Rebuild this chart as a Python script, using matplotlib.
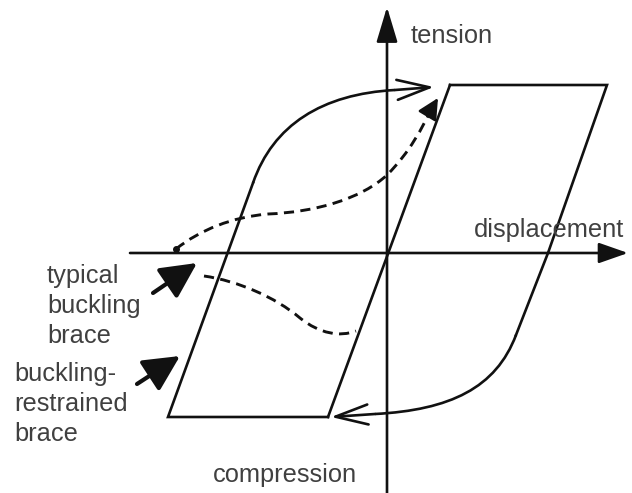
import matplotlib
matplotlib.use("Agg")
import matplotlib.pyplot as plt
from matplotlib.path import Path
from matplotlib.patches import PathPatch
import numpy as np

plt.rcParams['font.family'] = ['Liberation Sans', 'DejaVu Sans']

# ---- schematic geometry (figure pixel coordinates, y downward) ----
# axes
x_axis = [(130, 253), (628, 253)]
y_axis = [(387, 493), (387, 7)]

# buckling-restrained brace hysteresis (solid)
brb_loop_x = [433, 450, 607, 548, 516]
brb_loop_y = [88, 85, 85, 253, 335]
brb_lower_curve_x = [516, 496, 450, 375]
brb_lower_curve_y = [335, 388, 410, 414]
brb_lower_arrow = [(375, 414), (331, 417)]
brb_bottom_x = [328, 168, 253]
brb_bottom_y = [417, 417, 183]
brb_inner_x = [328, 450]
brb_inner_y = [417, 85]
brb_upper_curve_x = [253, 273, 322, 395]
brb_upper_curve_y = [183, 125, 94, 90]
brb_upper_arrow = [(395, 90), (434, 87)]

# typical buckling brace (dashed)
buck_upper_x = [176, 200, 232, 268, 318, 362, 387, 410, 422, 432]
buck_upper_y = [249, 230, 217, 214, 212, 198, 175, 152, 128, 108]
buck_upper_tip = (438, 98)
buck_lower_x = [204, 238, 275, 300, 320, 340, 356]
buck_lower_y = [276, 281, 297, 318, 334, 337, 331]

# labels
label_tension = "tension"
label_disp = "displacement"
label_comp = "compression"
label_typ = "typical\nbuckling\nbrace"
label_brb = "buckling-\nrestrained\nbrace"

# pointer arrows
ptr_typ = [(153, 293), (197, 263)]
ptr_brb = [(137, 384), (180, 356)]

LC = '#111111'
TC = '#404040'
LW = 1.9

fig = plt.figure(figsize=(6.32, 4.93), dpi=100)
ax = fig.add_axes([0, 0, 1, 1])
ax.set_xlim(0, 632)
ax.set_ylim(493, 0)
ax.axis('off')


def bez(xs, ys, **kw):
    verts = list(zip(xs, ys))
    n = len(verts)
    codes = [Path.MOVETO] + [Path.CURVE4] * (n - 1)
    ax.add_patch(PathPatch(Path(verts, codes), fill=False, **kw))


# axes with filled arrowheads
ax.annotate('', xy=x_axis[1], xytext=x_axis[0],
            arrowprops=dict(arrowstyle='-|>,head_length=1.0,head_width=0.35',
                            mutation_scale=18, lw=LW, color=LC,
                            shrinkA=0, shrinkB=0))
ax.annotate('', xy=y_axis[1], xytext=y_axis[0],
            arrowprops=dict(arrowstyle='-|>,head_length=1.2,head_width=0.36',
                            mutation_scale=18, lw=LW, color=LC,
                            shrinkA=0, shrinkB=0))

# BRB solid loop
ax.plot(brb_loop_x[1:], brb_loop_y[1:], color=LC, lw=LW, solid_joinstyle='miter')
bez(brb_lower_curve_x, brb_lower_curve_y, color=LC, lw=LW)
ax.annotate('', xy=brb_lower_arrow[1], xytext=brb_lower_arrow[0],
            arrowprops=dict(arrowstyle='->,head_length=1.3,head_width=0.4',
                            mutation_scale=18, lw=LW, color=LC,
                            shrinkA=0, shrinkB=0))
ax.plot(brb_bottom_x, brb_bottom_y, color=LC, lw=LW, solid_joinstyle='miter')
ax.plot(brb_inner_x, brb_inner_y, color=LC, lw=LW)
bez(brb_upper_curve_x, brb_upper_curve_y, color=LC, lw=LW)
ax.annotate('', xy=brb_upper_arrow[1], xytext=brb_upper_arrow[0],
            arrowprops=dict(arrowstyle='->,head_length=1.3,head_width=0.4',
                            mutation_scale=18, lw=LW, color=LC,
                            shrinkA=0, shrinkB=0))

# typical buckling brace dashed
bez(buck_upper_x, buck_upper_y, color=LC, lw=LW * 1.1,
    linestyle=(0, (3.5, 2.2)))
ax.annotate('', xy=buck_upper_tip, xytext=(buck_upper_x[-1], buck_upper_y[-1]),
            arrowprops=dict(arrowstyle='-|>,head_length=0.7,head_width=0.35',
                            mutation_scale=18, lw=LW, color=LC,
                            shrinkA=0, shrinkB=0))
ax.plot([buck_upper_x[0]], [buck_upper_y[0]], marker='o', ms=4, color=LC)
bez(buck_lower_x, buck_lower_y, color=LC, lw=LW * 1.1,
    linestyle=(0, (3.5, 2.2)))

# pointer arrows (filled)
for p in (ptr_typ, ptr_brb):
    ax.annotate('', xy=p[1], xytext=p[0],
                arrowprops=dict(arrowstyle='-|>,head_length=1.1,head_width=0.55',
                                mutation_scale=20, lw=3, color=LC,
                                shrinkA=0, shrinkB=0))

FS = 18.3
ax.text(411, 36, label_tension, fontsize=FS, color=TC, ha='left', va='center')
ax.text(624, 230, label_disp, fontsize=FS, color=TC, ha='right', va='center')
ax.text(213, 475, label_comp, fontsize=FS, color=TC, ha='left', va='center')
ax.text(47, 306, label_typ, fontsize=FS, color=TC, ha='left', va='center',
        linespacing=1.3)
ax.text(14, 404, label_brb, fontsize=FS, color=TC, ha='left', va='center',
        linespacing=1.3)

fig.savefig('out.png', dpi=100)
